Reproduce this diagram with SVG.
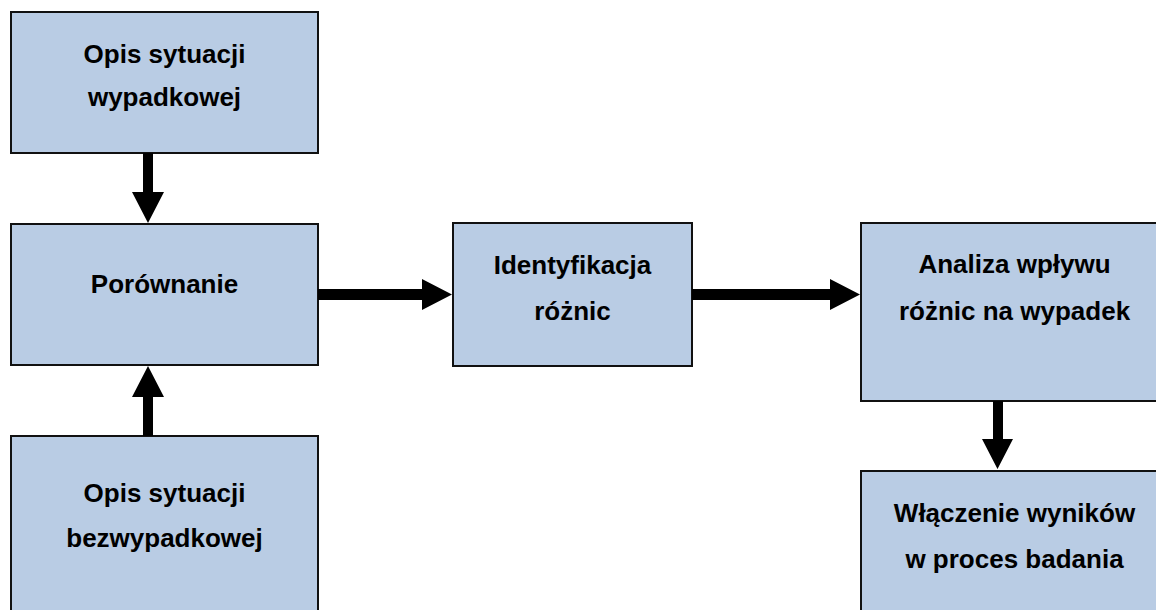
<svg xmlns="http://www.w3.org/2000/svg" width="1156" height="610" viewBox="0 0 1156 610">
<style>
.box{fill:#b9cce4;stroke:#111;stroke-width:2}
.t{font-family:"Liberation Sans",Arial,sans-serif;font-weight:bold;font-size:26px;fill:#000;text-anchor:middle}
.arr{fill:#000}
</style>
<rect width="1156" height="610" fill="#fff"/>
<g id="n1"><rect class="box" x="11" y="12" width="307" height="141"/><text class="t" x="164.5" y="63">Opis sytuacji</text><text class="t" x="164.5" y="106">wypadkowej</text></g>
<g id="n2"><rect class="box" x="11" y="224" width="307" height="141"/><text class="t" x="164.5" y="293">Porównanie</text></g>
<g id="n3"><rect class="box" x="11" y="436" width="307" height="190"/><text class="t" x="164.5" y="502">Opis sytuacji</text><text class="t" x="164.5" y="547">bezwypadkowej</text></g>
<g id="n4"><rect class="box" x="453" y="223" width="239" height="143"/><text class="t" x="572.5" y="274">Identyfikacja</text><text class="t" x="572.5" y="320">różnic</text></g>
<g id="n5"><rect class="box" x="861" y="223" width="310" height="178"/><text class="t" x="1014.5" y="273">Analiza wpływu</text><text class="t" x="1014.5" y="320">różnic na wypadek</text></g>
<g id="n6"><rect class="box" x="861" y="471" width="310" height="160"/><text class="t" x="1014.5" y="522">Włączenie wyników</text><text class="t" x="1014.5" y="568">w proces badania</text></g>
<g id="connectors">
<polygon class="arr" points="143,153 153,153 153,192 164,192 148,223 132,192 143,192"/>
<polygon class="arr" points="143,436 153,436 153,397 164,397 148,366 132,397 143,397"/>
<polygon class="arr" points="318,289 422,289 422,279 452,294.5 422,310 422,300 318,300"/>
<polygon class="arr" points="692,289 830,289 830,279 860,294.5 830,310 830,300 692,300"/>
<polygon class="arr" points="993,401 1003,401 1003,439 1013,439 997.5,469 982,439 993,439"/>
</g>
</svg>
